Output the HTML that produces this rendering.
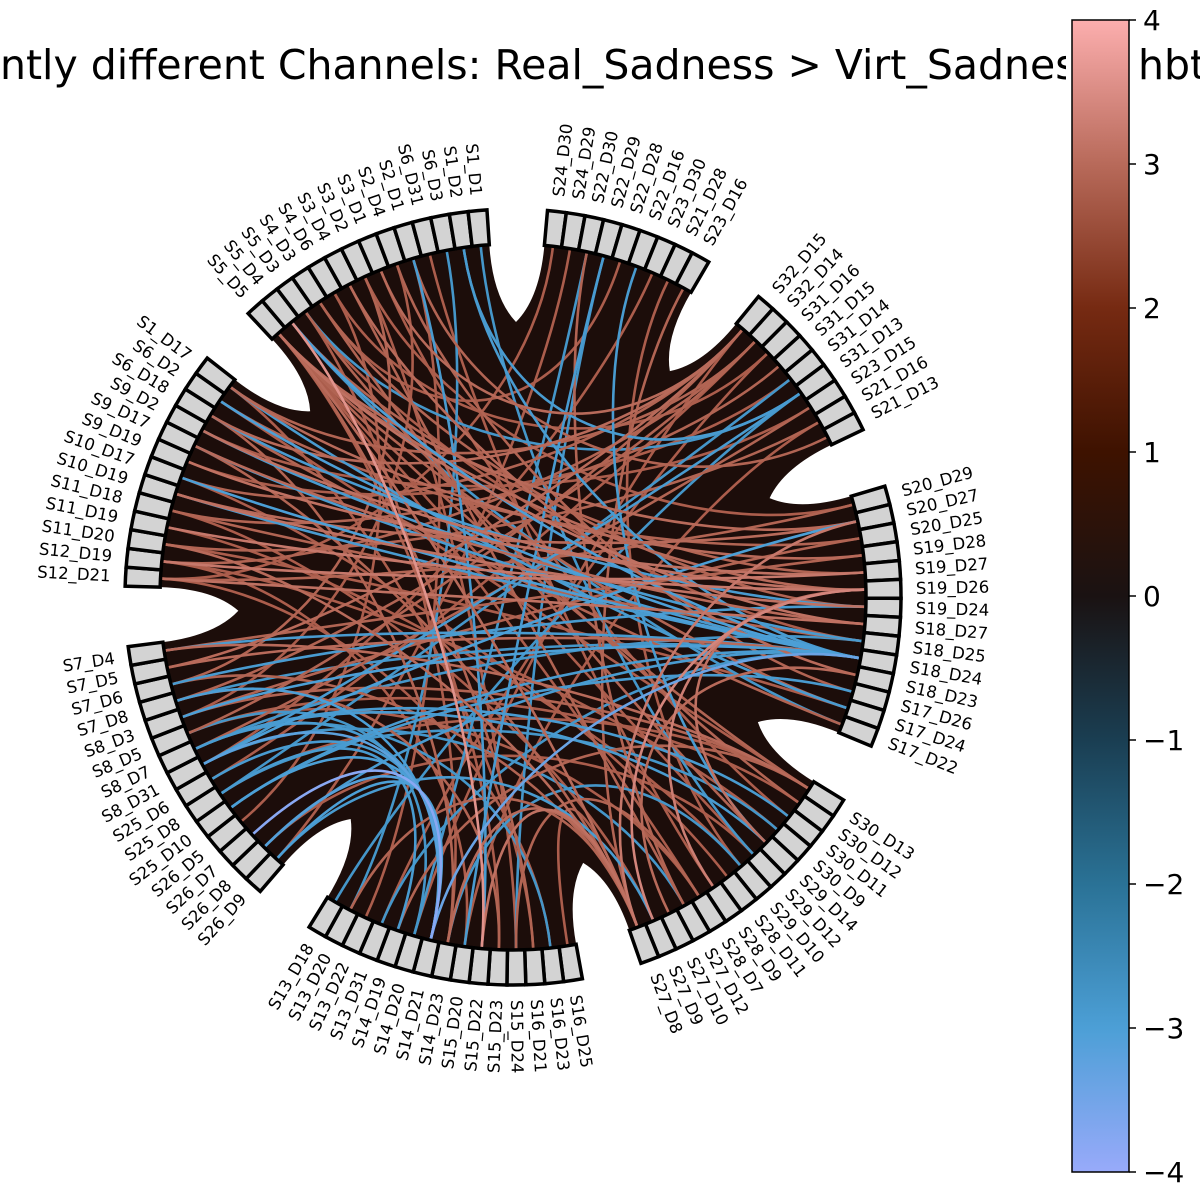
<!DOCTYPE html>
<html><head><meta charset="utf-8"><style>
html,body{margin:0;padding:0;background:#fff;}
svg{display:block;font-family:"DejaVu Sans","Liberation Sans",sans-serif;}
</style></head><body>
<svg id="chart" width="1200" height="1200" viewBox="0 0 1200 1200" xmlns="http://www.w3.org/2000/svg">
<defs>
<linearGradient id="cmap" x1="0" y1="1" x2="0" y2="0">
<stop offset="0" stop-color="#98aafa"/>
<stop offset="0.125" stop-color="#4c9fd6"/>
<stop offset="0.25" stop-color="#2a7296"/>
<stop offset="0.375" stop-color="#1a3e52"/>
<stop offset="0.5" stop-color="#1a1212"/>
<stop offset="0.625" stop-color="#3e1200"/>
<stop offset="0.75" stop-color="#762a12"/>
<stop offset="0.875" stop-color="#b86a5a"/>
<stop offset="1" stop-color="#fcaeae"/>
</linearGradient>
</defs>
<text x="0" y="79" font-size="41" fill="#000">ntly different Channels: Real_Sadness &gt; Virt_Sadness</text>
<g id="circle"></g>
<g>
<rect x="1066" y="0" width="70" height="1200" fill="#fff"/>
<rect x="1072" y="20" width="57" height="1152" fill="url(#cmap)" stroke="#000" stroke-width="1.5"/>
<g id="cbticks"></g>
</g>
<text x="1138" y="79" font-size="41" fill="#000">hbt</text>
</svg>
<script>
const groupG4 = ["S20_D29","S20_D27","S20_D25","S19_D28","S19_D27","S19_D26","S19_D24","S18_D27","S18_D25","S18_D24","S18_D23","S17_D26","S17_D24","S17_D22"];
const groupG5 = ["S30_D13","S30_D12","S30_D11","S30_D9","S29_D14","S29_D12","S29_D10","S28_D11","S28_D9","S28_D7","S27_D12","S27_D10","S27_D9","S27_D8"];
const groupG6 = ["S16_D25","S16_D23","S16_D21","S15_D24","S15_D23","S15_D22","S15_D20","S14_D23","S14_D21","S14_D20","S14_D19","S13_D31","S13_D22","S13_D20","S13_D18"];
const groupG7 = ["S26_D9","S26_D8","S26_D7","S26_D5","S25_D10","S25_D8","S25_D6","S8_D31","S8_D7","S8_D5","S8_D3","S7_D8","S7_D6","S7_D5","S7_D4"];
const groupG8 = ["S12_D21","S12_D19","S11_D20","S11_D19","S11_D18","S10_D19","S10_D17","S9_D19","S9_D17","S9_D2","S6_D18","S6_D2","S1_D17"];
const groupG1 = ["S5_D5","S5_D4","S5_D3","S4_D3","S4_D6","S3_D4","S3_D2","S3_D1","S2_D4","S2_D1","S6_D31","S6_D3","S1_D2","S1_D1"];
const groupG2 = ["S24_D30","S24_D29","S22_D30","S22_D29","S22_D28","S22_D16","S23_D30","S21_D28","S23_D16"];
const groupG3 = ["S32_D15","S32_D14","S31_D16","S31_D15","S31_D14","S31_D13","S23_D15","S21_D16","S21_D13"];

const edgeFrom = ["S5_D5","S5_D5","S5_D5","S5_D5","S5_D5","S5_D5","S5_D5","S5_D5","S5_D5","S5_D5",
"S5_D4","S5_D4","S5_D3","S5_D3","S5_D3","S4_D3","S4_D3","S4_D3","S4_D6","S4_D6","S3_D4","S3_D4","S3_D2","S3_D2","S3_D2","S3_D1","S3_D1","S2_D4","S2_D4","S2_D1","S2_D1","S6_D31",
"S1_D17","S1_D17","S6_D2","S6_D2","S6_D18","S6_D18","S9_D2","S9_D2","S9_D17","S9_D17","S9_D19","S9_D19","S10_D17","S10_D17","S10_D19","S10_D19","S11_D18","S11_D18","S11_D18","S11_D19","S11_D19","S11_D20","S11_D20","S11_D20","S12_D19","S12_D19","S12_D19","S12_D21","S12_D21","S12_D21",
"S32_D15","S32_D15","S32_D15","S32_D14","S32_D14","S31_D16","S21_D16","S23_D15",
"S24_D30","S24_D29","S22_D30","S23_D16","S21_D28","S23_D30",
"S19_D26","S19_D26","S19_D26","S18_D23","S20_D27",
"S30_D13","S30_D13","S30_D13","S30_D13","S27_D8","S27_D8","S27_D8","S27_D8","S27_D8","S28_D7","S28_D7","S29_D12",
"S15_D23","S16_D21","S15_D20","S14_D23","S7_D4","S7_D5","S8_D3","S8_D5",
"S18_D24","S18_D24","S18_D24","S18_D24","S18_D24","S18_D24","S18_D24","S18_D24","S18_D24","S18_D24","S18_D24","S18_D24",
"S18_D25","S18_D25","S19_D24","S31_D13","S31_D13","S31_D13","S31_D14",
"S22_D29","S22_D30","S22_D16","S1_D1","S1_D2","S6_D3","S2_D1","S5_D4","S5_D3","S1_D17",
"S14_D21","S14_D21","S14_D21","S14_D21","S14_D21","S14_D21","S14_D21","S14_D21","S14_D20","S14_D19","S14_D23",
"S8_D7","S8_D7","S8_D7","S8_D31","S7_D6","S25_D8","S26_D9","S15_D24","S8_D31","S25_D10"];
const edgeTo = ["S19_D26","S18_D27","S30_D13","S27_D8","S15_D23","S16_D21","S29_D12","S20_D27","S17_D24","S28_D7",
"S15_D22","S19_D27","S18_D25","S30_D12","S14_D23","S19_D24","S22_D28","S29_D14","S31_D16","S26_D5","S18_D23","S27_D12","S20_D29","S7_D6","S15_D24","S32_D15","S30_D11","S17_D26","S8_D3","S13_D22","S21_D13","S28_D9",
"S32_D14","S19_D28","S20_D25","S30_D13","S32_D15","S17_D22","S19_D26","S23_D15","S18_D27","S27_D8","S31_D14","S19_D27","S32_D15","S28_D11","S20_D27","S19_D24","S18_D25","S27_D9","S31_D15","S19_D26","S29_D10","S21_D16","S17_D24","S27_D8","S19_D27","S32_D14","S30_D9","S18_D27","S20_D29","S16_D23",
"S7_D5","S8_D5","S14_D20","S7_D8","S25_D6","S13_D31","S15_D20","S8_D7",
"S12_D21","S26_D9","S27_D12","S27_D8","S29_D10","S8_D31",
"S27_D9","S28_D9","S29_D14","S27_D10","S27_D8",
"S7_D4","S8_D3","S25_D8","S14_D19","S14_D23","S15_D22","S13_D20","S16_D25","S7_D6","S8_D5","S15_D24","S26_D8",
"S7_D8","S1_D17","S12_D19","S6_D18","S19_D28","S18_D24","S20_D25","S30_D12",
"S6_D2","S9_D17","S10_D17","S10_D19","S7_D4","S7_D8","S8_D3","S25_D10","S13_D31","S5_D4","S26_D8","S14_D21",
"S9_D2","S8_D7","S6_D18","S8_D31","S13_D18","S1_D2","S25_D8",
"S15_D20","S14_D20","S29_D14","S29_D12","S18_D24","S13_D20","S15_D22","S17_D22","S31_D13","S17_D24",
"S26_D9","S26_D8","S25_D10","S8_D31","S8_D7","S7_D8","S26_D7","S25_D6","S8_D5","S25_D8","S29_D10",
"S29_D14","S16_D23","S30_D11","S27_D12","S19_D24","S30_D9","S27_D9","S22_D29","S20_D27","S17_D26"];
const edgeVal = [3.0,3.1,2.9,3.0,2.8,2.9,2.8,3.0,2.9,2.8,
3.6,2.9,2.8,2.9,2.8,2.9,2.8,2.9,2.8,2.8,3.0,2.9,2.8,2.9,2.8,3.0,2.8,2.9,2.8,2.8,2.9,2.8,
2.9,3.0,2.9,2.8,3.0,2.9,3.1,2.8,3.0,2.9,2.8,3.1,2.9,2.8,3.0,3.1,2.9,2.8,2.9,3.2,2.8,2.9,2.8,3.0,3.2,2.9,2.8,3.1,2.9,2.8,
3.0,2.9,2.8,2.9,2.8,2.8,2.8,2.9,
2.8,2.8,2.9,2.9,2.8,2.8,
3.4,3.3,3.1,3.0,3.2,
3.0,2.9,2.8,2.9,3.0,3.1,2.9,2.8,2.9,2.8,2.9,2.8,
2.9,2.8,2.8,2.9,2.9,3.0,2.9,2.8,
-3.0,-2.9,-3.0,-2.9,-2.9,-2.8,-3.0,-2.9,-2.8,-3.0,-2.9,-3.4,
-2.9,-2.8,-2.9,-2.9,-2.8,-2.9,-2.8,
-2.9,-2.8,-2.9,-2.8,-2.9,-2.8,-2.9,-2.8,-2.8,-2.9,
-3.0,-3.1,-3.0,-3.2,-2.9,-3.0,-3.8,-2.9,-2.8,-2.9,-2.8,
-2.9,-2.8,-2.9,-2.8,-2.9,-2.8,-2.9,-2.8,-3.0,-2.9];

const cbTicks = [4,3,2,1,0,-1,-2,-3,-4];

const NS = "http://www.w3.org/2000/svg";
const cx = 513, cy = 597, R_IN = 353, R_OUT = 388, R_LAB = 403, R_NOTCH = 275;
const SLOT = 2.8, GAP = 8.95, START = 16.6;
const groups = [groupG4, groupG5, groupG6, groupG7, groupG8, groupG1, groupG2, groupG3];
const root = document.getElementById('circle');
function P(a, r){ const t = a*Math.PI/180; return [cx + r*Math.cos(t), cy - r*Math.sin(t)]; }
function f(p){ return p[0].toFixed(2)+","+p[1].toFixed(2); }

const nodeAngle = {};
const groupSpans = [];
let s = START;
groups.forEach(g => {
  const e = s - g.length*SLOT;
  groupSpans.push([s, e]);
  g.forEach((lab, k) => { nodeAngle[lab] = s - (k+0.5)*SLOT; });
  s = e - GAP;
});

let d = "";
groupSpans.forEach((sp, i) => {
  const a0 = sp[0], a1 = sp[1];
  const p0 = P(a0, R_IN), p1 = P(a1, R_IN);
  d += (i===0 ? "M" : "L") + f(p0) + " A" + R_IN + "," + R_IN + " 0 0 1 " + f(p1) + " ";
  const next = groupSpans[(i+1)%groupSpans.length][0];
  const mid = a1 - GAP/2;
  d += "Q" + f(P(a1, 300)) + " " + f(P(mid, R_NOTCH)) + " ";
  d += "Q" + f(P(next, 300)) + " " + f(P(next, R_IN)) + " ";
});
d += "Z";
const bg = document.createElementNS(NS, 'path');


bg.setAttribute('d', d);
bg.setAttribute('fill', '#1c0d0a');
root.appendChild(bg);

const cmStops = [[-4,[152,170,250]],[-3,[76,159,214]],[-2,[42,114,150]],[-1,[26,62,82]],[0,[26,18,18]],[1,[62,18,0]],[2,[118,42,18]],[3,[184,106,90]],[4,[252,174,174]]];
function cmap(v){
  v = Math.max(-4, Math.min(4, v));
  for (let i=0;i<cmStops.length-1;i++){
    const A = cmStops[i], B = cmStops[i+1];
    if (v <= B[0]) { const t = (v-A[0])/(B[0]-A[0]);
      return "rgb(" + A[1].map((c,j)=>Math.round(c+(B[1][j]-c)*t)).join(",") + ")"; }
  }
  return "rgb(252,174,174)";
}

const order = edgeVal.map((v,i)=>i).sort((a,b)=>Math.abs(edgeVal[a])-Math.abs(edgeVal[b]));
const chordG = document.createElementNS(NS, 'g');


root.appendChild(chordG);
order.forEach(i => {
  const a0 = nodeAngle[edgeFrom[i]], a1 = nodeAngle[edgeTo[i]];
  if (a0 === undefined || a1 === undefined) return;
  const p = document.createElementNS(NS, 'path');
  
  
  p.setAttribute('d', "M" + f(P(a0,R_IN)) + " C" + f(P(a0,R_IN/2)) + " " + f(P(a1,R_IN/2)) + " " + f(P(a1,R_IN)));
  p.setAttribute('fill', 'none');
  p.setAttribute('stroke', cmap(edgeVal[i]));
  p.setAttribute('stroke-width', '2.6');
  chordG.appendChild(p);
});

groups.forEach(g => g.forEach(lab => {
  const a = nodeAngle[lab], h = SLOT/2;
  const q1 = P(a+h, R_IN), q2 = P(a+h, R_OUT), q3 = P(a-h, R_OUT), q4 = P(a-h, R_IN);
  const box = document.createElementNS(NS, 'path');
  
  
  box.setAttribute('d', "M" + f(q1) + " L" + f(q2) + " A" + R_OUT + "," + R_OUT + " 0 0 1 " + f(q3) + " L" + f(q4) + " A" + R_IN + "," + R_IN + " 0 0 0 " + f(q1) + " Z");
  box.setAttribute('fill', '#d3d3d3');
  box.setAttribute('stroke', '#000');
  box.setAttribute('stroke-width', '3.5');
  box.setAttribute('stroke-linejoin', 'miter');
  root.appendChild(box);
  const lp = P(a, R_LAB);
  const t = document.createElementNS(NS, 'text');
  
  
  t.setAttribute('x', lp[0].toFixed(2));
  t.setAttribute('y', lp[1].toFixed(2));
  t.setAttribute('font-size', '16.5');
  t.setAttribute('dominant-baseline', 'central');
  const right = Math.cos(a*Math.PI/180) >= 0;
  t.setAttribute('text-anchor', right ? 'start' : 'end');
  t.setAttribute('transform', 'rotate(' + (right ? -a : 180 - a).toFixed(2) + ' ' + lp[0].toFixed(2) + ' ' + lp[1].toFixed(2) + ')');
  t.textContent = lab;
  root.appendChild(t);
}));

const cbG = document.getElementById('cbticks');
const cbTop = 20, cbBot = 1172;
function cbY(v){ return cbBot - (v + 4) / 8 * (cbBot - cbTop); }
cbTicks.forEach(v => {
  const y = cbY(v);
  const ln = document.createElementNS(NS, 'line');
  
  
  ln.setAttribute('x1', 1129); ln.setAttribute('x2', 1136);
  ln.setAttribute('y1', y); ln.setAttribute('y2', y);
  ln.setAttribute('stroke', '#000'); ln.setAttribute('stroke-width', '1.5');
  cbG.appendChild(ln);
  const tx = document.createElementNS(NS, 'text');
  
  
  tx.setAttribute('x', 1143); tx.setAttribute('y', y + 10);
  tx.setAttribute('font-size', '28');
  tx.textContent = v < 0 ? '\u2212' + Math.abs(v) : String(v);
  cbG.appendChild(tx);
});
</script>
</body></html>
